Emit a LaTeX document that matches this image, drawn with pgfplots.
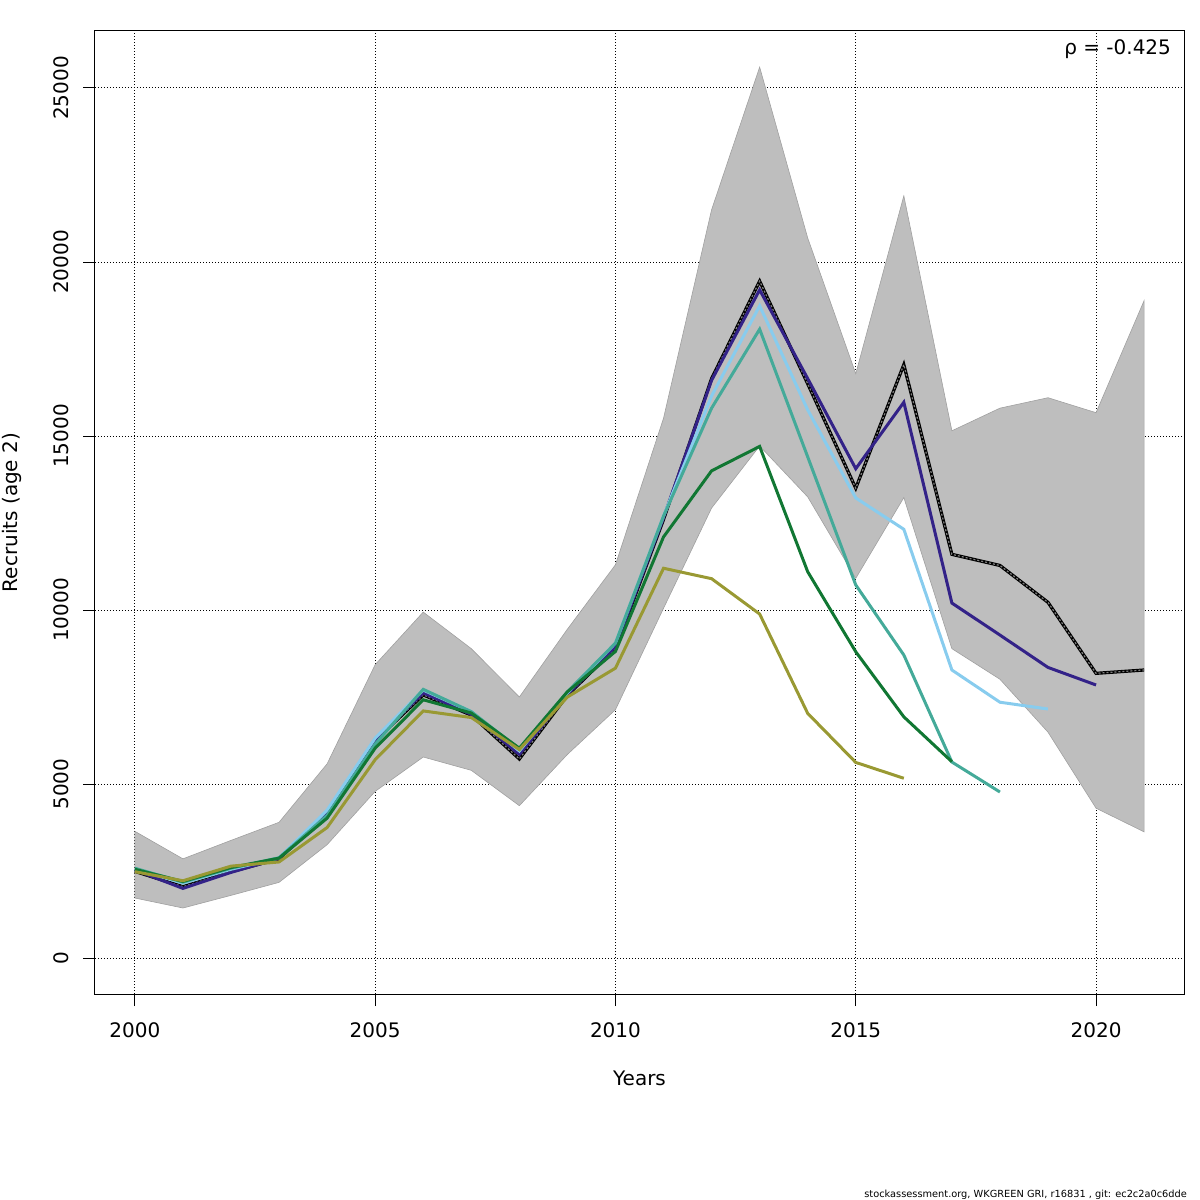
\documentclass[border=0pt]{standalone}
\usepackage{fontspec}
\setmainfont{DejaVu Sans}
\usepackage{pgfplots}
\pgfplotsset{compat=1.18}
\definecolor{band}{RGB}{190,190,190}
\definecolor{bandedge}{RGB}{160,160,160}
\definecolor{cBlue}{HTML}{332288}
\definecolor{cCyan}{HTML}{88CCEE}
\definecolor{cTeal}{HTML}{44AA99}
\definecolor{cGreen}{HTML}{117733}
\definecolor{cOlive}{HTML}{999933}
\begin{document}
\fontsize{10}{12}\selectfont
\begin{tikzpicture}
\path[use as bounding box] (0,0) rectangle (600pt,600pt);
\begin{axis}[
  at={(47.5pt,103pt)}, anchor=south west,
  width=544.5pt, height=481.5pt, scale only axis,
  xmin=1999.17, xmax=2021.83, ymin=-1034, ymax=26638,
  xtick={2000,2005,2010,2015,2020},
  ytick={0,5000,10000,15000,20000,25000},
  /pgf/number format/assume math mode=true,
  /pgf/number format/1000 sep={},
  scaled y ticks=false,
  tick align=outside, tick pos=left,
  major tick length=6pt,
  tick style={black, line width=0.5pt},
  axis line style={black, line width=0.5pt},
  grid=major,
  major grid style={black, line width=0.5pt, dash pattern=on 0.5pt off 1pt},
  xticklabel style={anchor=center, yshift=-12pt},
  yticklabel style={xshift=-11pt, rotate=90, anchor=center},
  xlabel={Years},
  ylabel={Recruits (age 2)},
  xlabel style={at={(0.5,0)}, anchor=center, yshift=-42pt},
  ylabel style={at={(0,0.5)}, anchor=center, rotate=0, yshift=41.5pt},
  clip=true,
]
% confidence band
\addplot[fill=band, draw=bandedge, line width=0.3pt] coordinates {
(2000,3640) (2001,2850) (2002,3380) (2003,3900) (2004,5580) (2005,8430)
(2006,9940) (2007,8890) (2008,7500) (2009,9450) (2010,11300) (2011,15510)
(2012,21500) (2013,25600) (2014,20690) (2015,16790) (2016,21900) (2017,15150)
(2018,15800) (2019,16100) (2020,15670) (2021,18890)
(2021,3625) (2020,4305) (2019,6490) (2018,8010) (2017,8890) (2016,13230)
(2015,10910) (2014,13250) (2013,14713) (2012,12930) (2011,10050) (2010,7136)
(2009,5850) (2008,4377) (2007,5393) (2006,5776) (2005,4789) (2004,3257)
(2003,2174) (2002,1800) (2001,1437) (2000,1724)
} -- cycle;
% main estimate
\addplot[black, line width=1.6pt] coordinates {
(2000,2490) (2001,2050) (2002,2480) (2003,2850) (2004,4150) (2005,6250)
(2006,7560) (2007,6980) (2008,5720) (2009,7550) (2010,8900) (2011,12600)
(2012,16650) (2013,19450) (2014,16500) (2015,13500) (2016,17050) (2017,11600)
(2018,11280) (2019,10220) (2020,8180) (2021,8276)
};
\addplot[gray, line width=0.6pt, dash pattern=on 1pt off 1pt] coordinates {
(2000,2490) (2001,2050) (2002,2480) (2003,2850) (2004,4150) (2005,6250)
(2006,7560) (2007,6980) (2008,5720) (2009,7550) (2010,8900) (2011,12600)
(2012,16650) (2013,19450) (2014,16500) (2015,13500) (2016,17050) (2017,11600)
(2018,11280) (2019,10220) (2020,8180) (2021,8276)
};
% retro peels
\addplot[cBlue, line width=1.5pt] coordinates {
(2000,2530) (2001,2000) (2002,2460) (2003,2860) (2004,4200) (2005,6280)
(2006,7620) (2007,7000) (2008,5850) (2009,7580) (2010,8950) (2011,12650)
(2012,16600) (2013,19200) (2014,16650) (2015,14060) (2016,15970) (2017,10200)
(2018,9280) (2019,8350) (2020,7845)
};
\addplot[cCyan, line width=1.5pt] coordinates {
(2000,2560) (2001,2150) (2002,2550) (2003,2880) (2004,4250) (2005,6320)
(2006,7700) (2007,7080) (2008,5950) (2009,7620) (2010,9050) (2011,12700)
(2012,16150) (2013,18740) (2014,15750) (2015,13220) (2016,12320) (2017,8276)
(2018,7350) (2019,7155)
};
\addplot[cTeal, line width=1.5pt] coordinates {
(2000,2580) (2001,2180) (2002,2580) (2003,2880) (2004,4100) (2005,6150)
(2006,7720) (2007,7080) (2008,6000) (2009,7650) (2010,9050) (2011,12700)
(2012,15800) (2013,18070) (2014,14400) (2015,10720) (2016,8707) (2017,5632)
(2018,4770)
};
\addplot[cGreen, line width=1.5pt] coordinates {
(2000,2550) (2001,2200) (2002,2600) (2003,2870) (2004,4020) (2005,6030)
(2006,7420) (2007,7040) (2008,6030) (2009,7650) (2010,8810) (2011,12100)
(2012,14000) (2013,14700) (2014,11100) (2015,8800) (2016,6930) (2017,5640)
};
\addplot[cOlive, line width=1.5pt] coordinates {
(2000,2480) (2001,2220) (2002,2640) (2003,2760) (2004,3750) (2005,5700)
(2006,7100) (2007,6910) (2008,5990) (2009,7500) (2010,8330) (2011,11200)
(2012,10900) (2013,9885) (2014,7030) (2015,5620) (2016,5165)
};
\node[anchor=east] at (rel axis cs:1,1) [xshift=-3pt, yshift=-9pt] {ρ = -0.425};
\end{axis}
\node[anchor=base east, font=\fontsize{4.9}{6}\selectfont] at (597pt,1.5pt) {stockassessment.org, WKGREEN GRI, r16831 , git: ec2c2a0c6dde};
\end{tikzpicture}
\end{document}
